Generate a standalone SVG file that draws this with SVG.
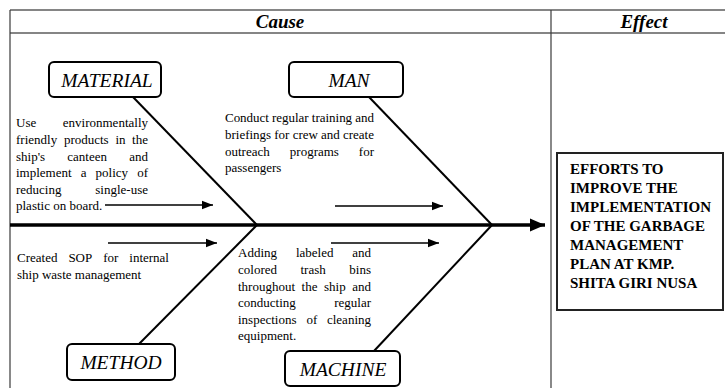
<svg xmlns="http://www.w3.org/2000/svg" width="725" height="388" viewBox="0 0 725 388" font-family="'Liberation Serif', 'Times New Roman', Tinos, 'DejaVu Serif', serif">
<style>
.tbl{stroke:#858585;stroke-width:2;fill:none}
.vb{stroke:#3a3a3a;stroke-width:1.2;fill:none}
.hdr{font-family:'Liberation Serif','Times New Roman',Tinos,'DejaVu Serif',serif;font-weight:bold;font-style:italic;font-size:19px;fill:#000}
.box{fill:#fff;stroke:#000;stroke-width:2}
.lbl{font-family:'Liberation Serif','Times New Roman',Tinos,'DejaVu Serif',serif;font-style:italic;font-size:19.5px;fill:#000}
.txt{font-family:'Liberation Serif','Times New Roman',Tinos,'DejaVu Serif',serif;font-size:13px;fill:#000}
.eff{font-family:'Liberation Serif','Times New Roman',Tinos,'DejaVu Serif',serif;font-weight:bold;font-size:15px;fill:#000}
.bone{stroke:#000;stroke-width:2;fill:none}
.spine{stroke:#000;stroke-width:3.5;fill:none}
.arr{stroke:#000;stroke-width:1.6;fill:none}
</style>
<defs>
<marker id="ah" markerUnits="userSpaceOnUse" markerWidth="12" markerHeight="10" refX="11" refY="5" orient="auto">
<polygon points="0,0.8 11,5 0,9.2" fill="#000"/>
</marker>
<marker id="ahBig" markerUnits="userSpaceOnUse" markerWidth="16" markerHeight="14" refX="15" refY="7" orient="auto">
<polygon points="0,0.5 15,7 0,13.5" fill="#000"/>
</marker>
</defs>
<rect width="725" height="388" fill="#fff"/>
<g id="table">
<line class="tbl" x1="10" y1="10" x2="725" y2="10"/>
<line class="tbl" x1="10" y1="33" x2="725" y2="33"/>
<line class="vb" x1="10" y1="10" x2="10" y2="388"/>
<line class="vb" x1="551" y1="10" x2="551" y2="388"/>
<text class="hdr" x="280" y="28" text-anchor="middle">Cause</text>
<text class="hdr" x="644" y="28" text-anchor="middle">Effect</text>
</g>
<g id="connectors">
<line class="spine" x1="10" y1="225" x2="545" y2="225" marker-end="url(#ahBig)"/>
<line class="bone" x1="133" y1="97" x2="257" y2="225"/>
<line class="bone" x1="369" y1="97" x2="492" y2="225"/>
<line class="bone" x1="257" y1="225" x2="139" y2="344"/>
<line class="bone" x1="492" y1="225" x2="374" y2="351"/>
<line class="arr" x1="105" y1="205" x2="213" y2="205" marker-end="url(#ah)"/>
<line class="arr" x1="108" y1="243" x2="217" y2="243" marker-end="url(#ah)"/>
<line class="arr" x1="335" y1="206" x2="443" y2="206" marker-end="url(#ah)"/>
<line class="arr" x1="331" y1="243" x2="439" y2="243" marker-end="url(#ah)"/>
</g>
<g id="material">
<rect class="box" x="49" y="62" width="112" height="35" rx="5"/>
<text class="lbl" x="107" y="87" text-anchor="middle">MATERIAL</text>
<text class="txt"><tspan x="16" y="127">Use</tspan><tspan x="148" y="127" text-anchor="end">environmentally</tspan></text>
<text class="txt"><tspan x="16" y="144">friendly</tspan><tspan x="63.9" y="144">products</tspan><tspan x="115.4" y="144">in</tspan><tspan x="148" y="144" text-anchor="end">the</tspan></text>
<text class="txt"><tspan x="16" y="161">ship's</tspan><tspan x="67.3" y="161">canteen</tspan><tspan x="148" y="161" text-anchor="end">and</tspan></text>
<text class="txt"><tspan x="16" y="177">implement</tspan><tspan x="80.7" y="177">a</tspan><tspan x="95.6" y="177">policy</tspan><tspan x="148" y="177" text-anchor="end">of</tspan></text>
<text class="txt"><tspan x="16" y="194">reducing</tspan><tspan x="148" y="194" text-anchor="end">single-use</tspan></text>
<text class="txt" x="16" y="210">plastic on board.</text>
</g>
<g id="man">
<rect class="box" x="289" y="62" width="114" height="35" rx="5"/>
<text class="lbl" x="349" y="87" text-anchor="middle">MAN</text>
<text class="txt" x="225" y="122" textLength="149" lengthAdjust="spacing">Conduct regular training and</text>
<text class="txt" x="225" y="139" textLength="149" lengthAdjust="spacing">briefings for crew and create</text>
<text class="txt"><tspan x="225" y="156">outreach</tspan><tspan x="289.8" y="156">programs</tspan><tspan x="374" y="156" text-anchor="end">for</tspan></text>
<text class="txt" x="225" y="172">passengers</text>
</g>
<g id="method">
<rect class="box" x="67" y="344" width="108" height="36" rx="5"/>
<text class="lbl" x="121" y="369" text-anchor="middle">METHOD</text>
<text class="txt"><tspan x="17" y="262">Created</tspan><tspan x="68.4" y="262">SOP</tspan><tspan x="103.2" y="262">for</tspan><tspan x="169" y="262" text-anchor="end">internal</tspan></text>
<text class="txt" x="17" y="279">ship waste management</text>
</g>
<g id="machine">
<rect class="box" x="285" y="351" width="115" height="35" rx="5"/>
<text class="lbl" x="343" y="376" text-anchor="middle">MACHINE</text>
<text class="txt"><tspan x="238" y="257">Adding</tspan><tspan x="295.9" y="257">labeled</tspan><tspan x="371" y="257" text-anchor="end">and</tspan></text>
<text class="txt"><tspan x="238" y="274">colored</tspan><tspan x="300.5" y="274">trash</tspan><tspan x="371" y="274" text-anchor="end">bins</tspan></text>
<text class="txt"><tspan x="238" y="291">throughout</tspan><tspan x="301.6" y="291">the</tspan><tspan x="324" y="291">ship</tspan><tspan x="371" y="291" text-anchor="end">and</tspan></text>
<text class="txt"><tspan x="238" y="307">conducting</tspan><tspan x="371" y="307" text-anchor="end">regular</tspan></text>
<text class="txt"><tspan x="238" y="324">inspections</tspan><tspan x="306.4" y="324">of</tspan><tspan x="371" y="324" text-anchor="end">cleaning</tspan></text>
<text class="txt" x="238" y="340">equipment.</text>
</g>
<g id="effect">
<rect x="557" y="153" width="166" height="157" fill="#fff" stroke="#222" stroke-width="2"/>
<text class="eff" x="570" y="174">EFFORTS TO</text>
<text class="eff" x="570" y="193">IMPROVE THE</text>
<text class="eff" x="570" y="212">IMPLEMENTATION</text>
<text class="eff" x="570" y="231">OF THE GARBAGE</text>
<text class="eff" x="570" y="250">MANAGEMENT</text>
<text class="eff" x="570" y="269">PLAN AT KMP.</text>
<text class="eff" x="570" y="288">SHITA GIRI NUSA</text>
</g>
</svg>
